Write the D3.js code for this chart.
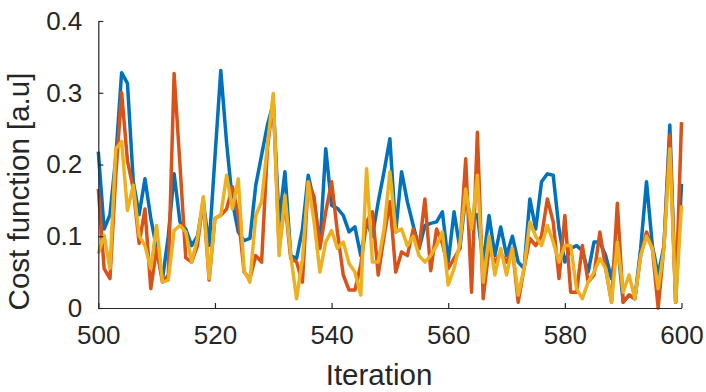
<!DOCTYPE html>
<html>
<head>
<meta charset="utf-8">
<script src="https://cdn.jsdelivr.net/npm/d3@7"></script>
<style>
  body { margin: 0; background: #fff; }
  svg { display: block; font-family: "Liberation Sans", Arial, sans-serif; }
</style>
</head>
<body>
<div id="chart"></div>
<script>
// iterations 500..600
const iterations = d3.range(500, 601);
const xTicks = [500, 520, 540, 560, 580, 600];
const yTicks = [0, 0.1, 0.2, 0.3, 0.4];

const seriesBlue = [
  0.218, 0.11, 0.13, 0.21, 0.328, 0.313, 0.176, 0.13, 0.18, 0.125,
  0.083, 0.04, 0.1, 0.187, 0.12, 0.11, 0.087, 0.1, 0.148, 0.087,
  0.21, 0.331, 0.23, 0.148, 0.106, 0.094, 0.097, 0.171, 0.213, 0.255,
  0.285, 0.12, 0.19, 0.073, 0.069, 0.11, 0.185, 0.148, 0.087, 0.222,
  0.143, 0.139, 0.129, 0.106, 0.113, 0.073, 0.12, 0.1, 0.148, 0.19,
  0.236, 0.106, 0.19, 0.148, 0.115, 0.083, 0.115, 0.118, 0.12, 0.134,
  0.064, 0.134, 0.083, 0.157, 0.12, 0.13, 0.064, 0.129, 0.073, 0.113,
  0.073, 0.1, 0.064, 0.055, 0.152, 0.11, 0.176, 0.187, 0.185, 0.11,
  0.064, 0.083, 0.087, 0.08, 0.05, 0.092, 0.092, 0.073, 0.041, 0.092,
  0.008, 0.018, 0.013, 0.083, 0.176, 0.087, 0.046, 0.087, 0.255, 0.008,
  0.173
];
const seriesOrange = [
  0.166, 0.055, 0.041, 0.185, 0.3, 0.205, 0.166, 0.09, 0.138, 0.027,
  0.083, 0.036, 0.046, 0.327, 0.2, 0.07, 0.064, 0.087, 0.152, 0.039,
  0.125, 0.129, 0.138, 0.169, 0.129, 0.05, 0.041, 0.073, 0.064, 0.222,
  0.292, 0.083, 0.148, 0.069, 0.064, 0.036, 0.176, 0.155, 0.083, 0.134,
  0.176, 0.106, 0.046, 0.025, 0.025, 0.06, 0.12, 0.134, 0.046, 0.1,
  0.148, 0.05, 0.078, 0.073, 0.11, 0.083, 0.152, 0.052, 0.11, 0.09,
  0.055, 0.069, 0.083, 0.208, 0.022, 0.245, 0.013, 0.083, 0.064, 0.076,
  0.064, 0.083, 0.008, 0.055, 0.097, 0.087, 0.1, 0.152, 0.12, 0.041,
  0.129, 0.022, 0.022, 0.087, 0.036, 0.046, 0.106, 0.055, 0.008, 0.146,
  0.008, 0.018, 0.013, 0.073, 0.106, 0.083, 0.0, 0.087, 0.241, 0.008,
  0.259
];
const seriesYellow = [
  0.076, 0.101, 0.055, 0.222, 0.232, 0.136, 0.171, 0.101, 0.087, 0.055,
  0.115, 0.036, 0.039, 0.108, 0.115, 0.106, 0.064, 0.097, 0.155, 0.041,
  0.125, 0.129, 0.185, 0.138, 0.18, 0.052, 0.036, 0.129, 0.148, 0.227,
  0.299, 0.073, 0.157, 0.073, 0.013, 0.068, 0.176, 0.12, 0.05, 0.092,
  0.108, 0.083, 0.092, 0.062, 0.05, 0.018, 0.194, 0.064, 0.064, 0.11,
  0.19, 0.106, 0.11, 0.087, 0.1, 0.073, 0.064, 0.073, 0.087, 0.106,
  0.032, 0.055, 0.09, 0.166, 0.11, 0.185, 0.036, 0.1, 0.046, 0.083,
  0.046, 0.083, 0.018, 0.055, 0.12, 0.1, 0.087, 0.115, 0.092, 0.064,
  0.087, 0.087, 0.027, 0.013, 0.036, 0.05, 0.069, 0.055, 0.008, 0.092,
  0.022, 0.046, 0.013, 0.073, 0.1, 0.083, 0.027, 0.083, 0.222, 0.008,
  0.143
];

const series = [
  { values: seriesBlue, color: "#0072BD" },
  { values: seriesOrange, color: "#D95319" },
  { values: seriesYellow, color: "#EDB120" }
];

const W = 706, H = 392;
const margin = { top: 21, right: 24.5, bottom: 84, left: 98.3 };
const width = W - margin.left - margin.right;
const height = H - margin.top - margin.bottom;

const svg = d3.select("#chart").append("svg")
  .attr("width", W)
  .attr("height", H);

const g = svg.append("g")
  .attr("transform", `translate(${margin.left},${margin.top})`);

const x = d3.scaleLinear().domain([500, 600]).range([0, width]);
const y = d3.scaleLinear().domain([0, 0.4]).range([height, 0]);

const line = d3.line()
  .x((d, i) => x(iterations[i]))
  .y(d => y(d));

series.forEach(s => {
  g.append("path")
    .datum(s.values)
    .attr("fill", "none")
    .attr("stroke", s.color)
    .attr("stroke-width", 3.5)
    .attr("stroke-linejoin", "round")
    .attr("d", line);
});

const xAxis = g.append("g")
  .attr("transform", `translate(0,${height})`)
  .call(d3.axisBottom(x).tickValues(xTicks).tickSizeInner(-5).tickSizeOuter(0).tickPadding(18));

const yAxis = g.append("g")
  .call(d3.axisLeft(y).tickValues(yTicks)
    .tickFormat(d => d === 0 ? "0" : d3.format(".1f")(d))
    .tickSizeInner(-5).tickSizeOuter(0).tickPadding(16));

[xAxis, yAxis].forEach(a => {
  a.select(".domain").attr("stroke", "#262626").attr("stroke-width", 1.2);
  a.selectAll(".tick line").attr("stroke", "#262626").attr("stroke-width", 1.2);
  a.selectAll(".tick text")
    .attr("fill", "#262626")
    .style("font-size", "26px")
    .style("font-family", "'Liberation Sans', Arial, sans-serif");
});

svg.append("text")
  .attr("x", 379)
  .attr("y", 385)
  .attr("text-anchor", "middle")
  .attr("fill", "#262626")
  .style("font-size", "29.5px")
  .text("Iteration");

svg.append("text")
  .attr("transform", "translate(29,191.5) rotate(-90)")
  .attr("text-anchor", "middle")
  .attr("fill", "#262626")
  .style("font-size", "29.5px")
  .text("Cost function [a.u]");
</script>
</body>
</html>
